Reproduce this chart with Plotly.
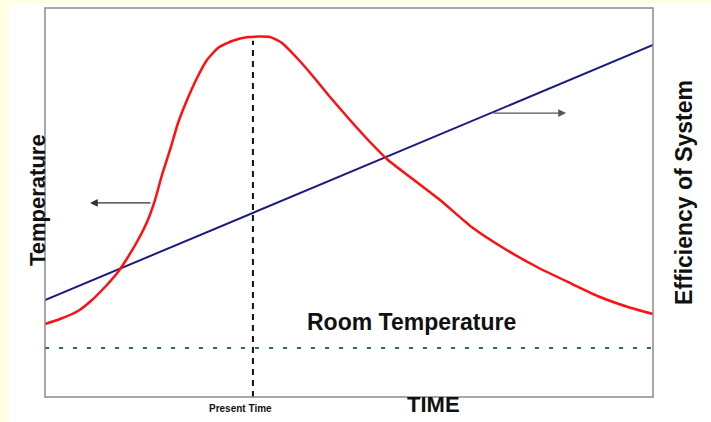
import plotly.graph_objects as go

# Data (axis units: time 0-100, value 0-100)
time_red = [0, 2.47, 5.43, 7.73, 9.87, 12.01, 13.65, 15.30, 16.78, 18.09, 19.24, 20.56, 21.88,
            23.36, 25.0, 26.64, 28.45, 30.76, 33.39, 37.01, 38.98, 41.45, 43.91, 46.88, 50.16,
            53.45, 56.41, 60.03, 64.97, 70.39, 75.66, 80.92, 86.35, 91.28, 95.89, 100]
temperature = [18.77, 20.05, 22.11, 24.94, 28.28, 32.13, 35.99, 40.36, 44.99, 50.64, 57.07, 63.50,
               70.44, 76.35, 82.01, 86.63, 89.72, 91.52, 92.54, 92.54, 91.00, 87.15, 82.78, 77.12,
               71.21, 65.55, 60.93, 56.56, 50.64, 43.44, 38.05, 33.42, 29.31, 25.71, 23.14, 21.34]
time_blue = [0, 100]
efficiency = [24.9, 90.5]
present_time = 34.2
present_top = 91.6
room_temp = 12.6

FONT = "Liberation Sans, Arial, sans-serif"

fig = go.Figure()
fig.add_trace(go.Scatter(x=time_blue, y=efficiency, mode="lines",
                         line=dict(color="#1c1c80", width=2), hoverinfo="skip"))
fig.add_trace(go.Scatter(x=time_red, y=temperature, mode="lines",
                         line=dict(color="#ff1010", width=2.5, shape="spline", smoothing=0.5),
                         hoverinfo="skip"))
fig.add_trace(go.Scatter(x=[0, 100], y=[room_temp, room_temp], mode="lines",
                         line=dict(color="#2f6f45", width=2, dash="4px,10px"), hoverinfo="skip"))
fig.add_trace(go.Scatter(x=[present_time, present_time], y=[0, present_top], mode="lines",
                         line=dict(color="#111111", width=2, dash="6px,5px"), hoverinfo="skip"))

W, H = 711, 422
L, R, T, B = 45, 58, 8, 25
pw, ph = W - L - R, H - T - B

def px(xp):
    return (xp - L) / pw

def py(yp):
    return (H - B - yp) / ph

shapes = [
    dict(type="rect", xref="paper", yref="paper", x0=px(9), x1=px(711), y0=py(422), y1=py(3),
         fillcolor="white", line=dict(width=0), layer="below"),
    dict(type="rect", xref="paper", yref="paper", x0=0, x1=1, y0=0, y1=1,
         line=dict(color="#8a8a8a", width=1.5), layer="above"),
]

def label(xp, yp, text, size, angle=0):
    return dict(x=px(xp), y=py(yp), xref="paper", yref="paper", text=text, showarrow=False,
                xanchor="center", yanchor="middle", textangle=angle,
                font=dict(family=FONT, size=size, color="#111111"))

annotations = [
    dict(x=7.4, y=49.9, ax=17.6, ay=49.9, xref="x", yref="y", axref="x", ayref="y",
         showarrow=True, arrowhead=2, arrowsize=1.2, arrowwidth=1.3, arrowcolor="#333333", text=""),
    dict(x=85.7, y=73.0, ax=73.5, ay=73.0, xref="x", yref="y", axref="x", ayref="y",
         showarrow=True, arrowhead=2, arrowsize=1.2, arrowwidth=1.3, arrowcolor="#555555", text=""),
    label(412, 322, "<b>Room Temperature</b>", 23),
    label(433, 404, "<b>TIME</b>", 22),
    label(240, 408, "<b>Present Time</b>", 10),
    label(37, 200, "<b>Temperature</b>", 22, -90),
    label(684, 192, "<b>Efficiency of System</b>", 23, -90),
]

fig.update_layout(
    width=W, height=H, margin=dict(l=L, r=R, t=T, b=B),
    paper_bgcolor="#fffde4", plot_bgcolor="white", showlegend=False,
    xaxis=dict(range=[0, 100], visible=False, fixedrange=True),
    yaxis=dict(range=[0, 100], visible=False, fixedrange=True),
    shapes=shapes, annotations=annotations,
)

fig.write_html("out.html", config={"displayModeBar": False},
               post_script="document.body.style.margin='0';document.body.style.overflow='hidden';")
